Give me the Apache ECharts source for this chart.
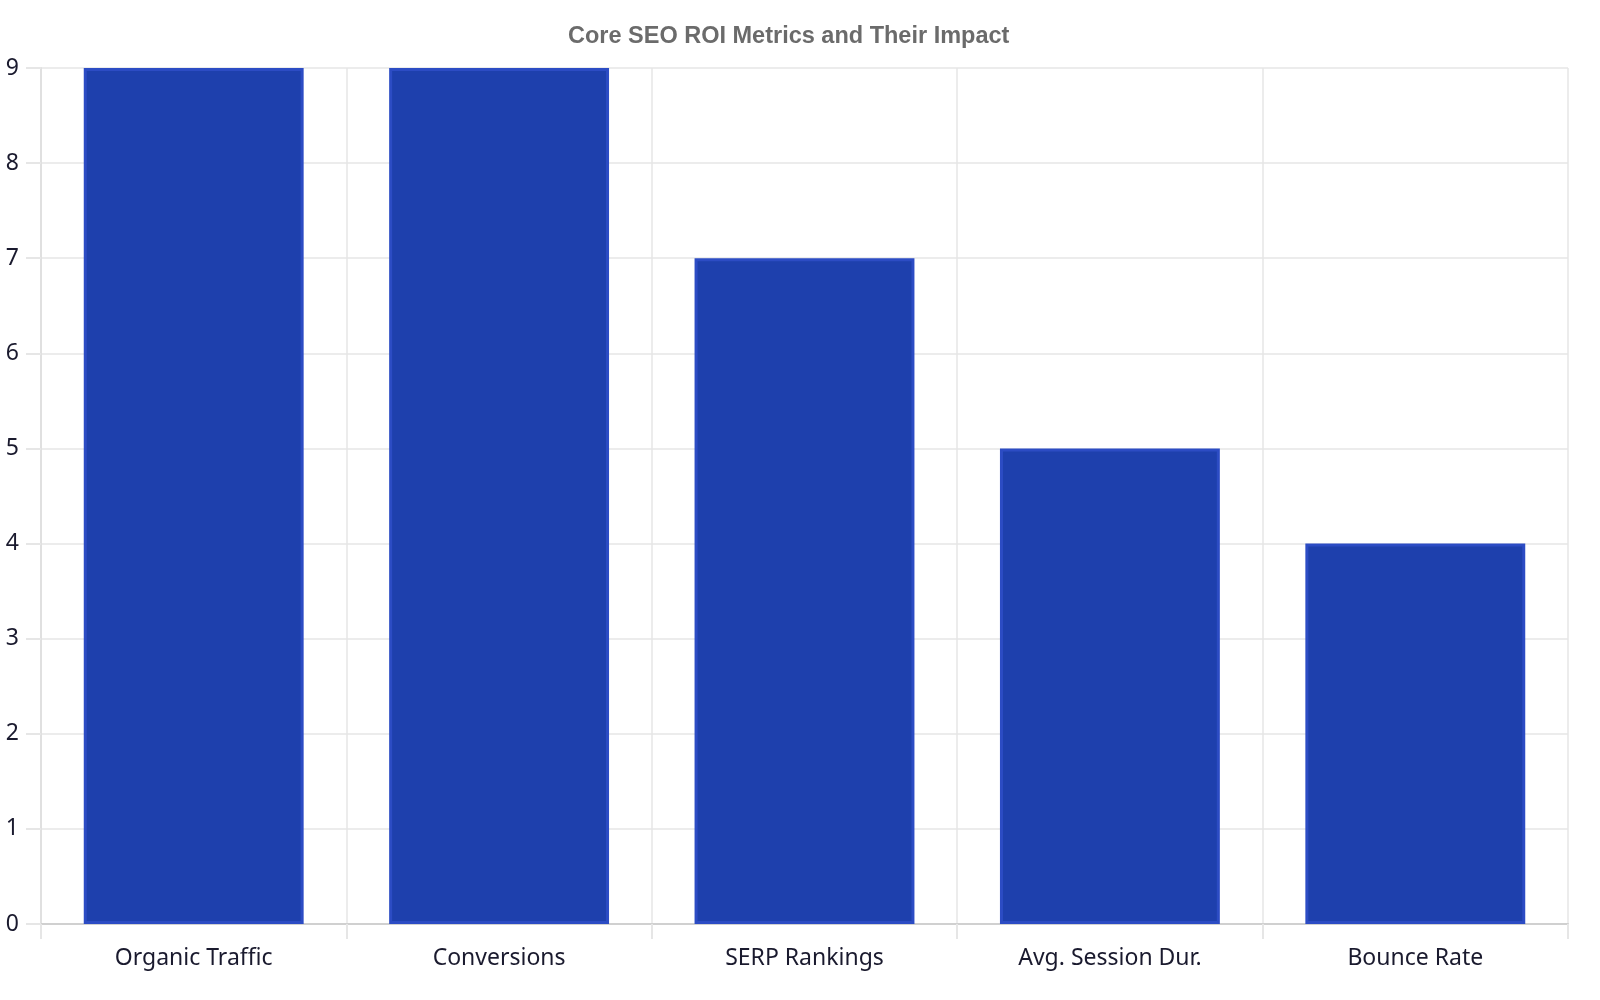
<!DOCTYPE html>
<html>
<head>
<meta charset="utf-8">
<title>Core SEO ROI Metrics</title>
<script src="https://cdn.jsdelivr.net/npm/echarts@6/dist/echarts.min.js"></script>
<style>
  html, body { margin: 0; padding: 0; background: #fff; }
  #main { width: 1600px; height: 1000px; }
</style>
</head>
<body>
<div id="main"></div>
<script>
var categories = ['Organic Traffic', 'Conversions', 'SERP Rankings', 'Avg. Session Dur.', 'Bounce Rate'];
var impactScores = [9, 9, 7, 5, 4];
var yTicks = [0, 1, 2, 3, 4, 5, 6, 7, 8, 9];

var myChart = echarts.init(document.getElementById('main'));
myChart.setOption({
    backgroundColor: '#ffffff',
    title: {
        text: 'Core SEO ROI Metrics and Their Impact',
        left: 563,
        top: 20,
        textStyle: {
            fontFamily: 'Liberation Sans, Arial, sans-serif',
            fontSize: 23.5,
            fontWeight: 'bold',
            color: '#6b6b6b'
        }
    },
    grid: {
        left: 41,
        right: 32,
        top: 68,
        bottom: 76
    },
    xAxis: {
        type: 'category',
        data: categories,
        boundaryGap: true,
        axisLine: { lineStyle: { color: '#d0d0d0', width: 2 } },
        axisTick: { show: true, length: 15, lineStyle: { color: '#e6e6e6', width: 2 } },
        splitLine: { show: true, lineStyle: { color: '#e6e6e6', width: 1.5 } },
        axisLabel: {
            margin: 23,
            fontFamily: 'Noto Sans',
            fontSize: 23,
            color: '#1a1a2e'
        }
    },
    yAxis: {
        type: 'value',
        min: yTicks[0],
        max: yTicks[yTicks.length - 1],
        interval: 1,
        axisLine: { show: true, lineStyle: { color: '#e0e0e0', width: 2 } },
        axisTick: { show: true, length: 15, lineStyle: { color: '#e6e6e6', width: 2 } },
        splitLine: { show: true, lineStyle: { color: '#e6e6e6', width: 1.5 } },
        axisLabel: {
            margin: 22,
            fontFamily: 'Noto Sans',
            fontSize: 23,
            color: '#1a1a2e'
        }
    },
    series: [{
        name: 'Impact',
        type: 'bar',
        data: impactScores,
        barWidth: '72%',
        itemStyle: {
            color: '#1e40ad',
            borderColor: '#2c4cc4',
            borderWidth: 3
        }
    }]
});
</script>
</body>
</html>
